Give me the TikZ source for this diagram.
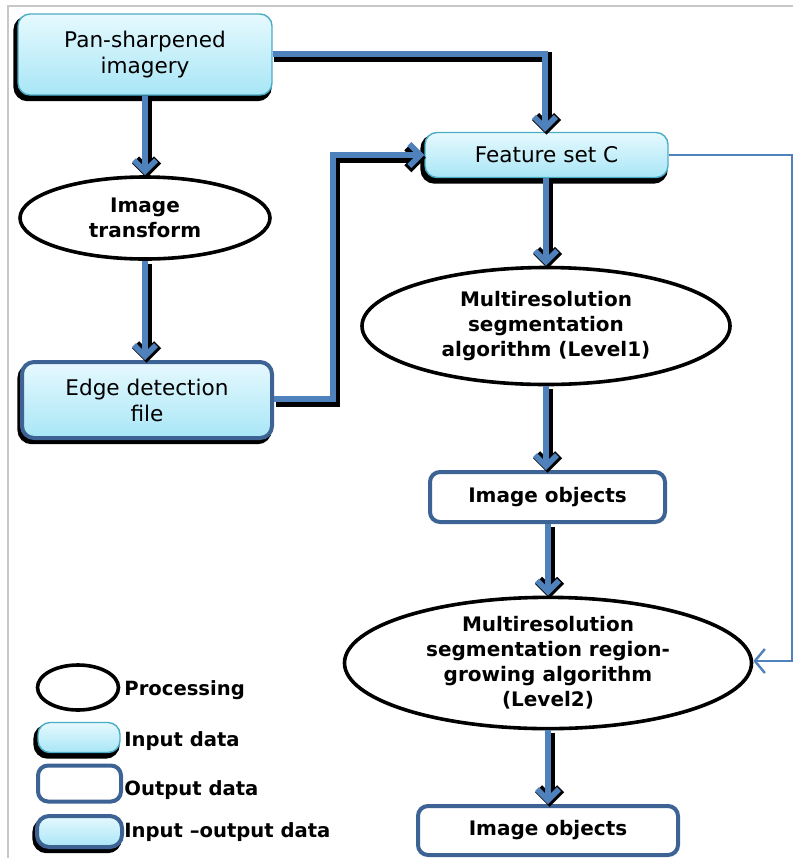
\documentclass[tikz,border=0pt]{standalone}
\usepackage{fontspec}
\setmainfont{DejaVu Sans}
\usetikzlibrary{arrows.meta,shapes.geometric}
\definecolor{flowblue}{HTML}{4F81BD}
\definecolor{boxblue}{HTML}{3D6394}
\definecolor{tealedge}{HTML}{4BACC6}
\definecolor{cyantop}{HTML}{E6F9FE}
\definecolor{cyanbot}{HTML}{A8E6F6}
\definecolor{framegray}{HTML}{C8C8C8}
\tikzset{
  x=0.5pt, y=-0.5pt,
  dropshadow/.style={preaction={draw=black, fill=black, line width=2.2pt,
      transform canvas={shift={(-1.2pt,-2pt)}}}},
  cyanfill/.style={top color=cyantop, bottom color=cyanbot},
  inbox/.style={rectangle, rounded corners=6pt, draw=tealedge, line width=0.7pt,
      cyanfill, dropshadow, align=center, inner sep=0pt, font=\fontsize{10.8}{13}\selectfont},
  iobox/.style={rectangle, rounded corners=6pt, draw=boxblue, line width=2pt,
      cyanfill, dropshadow, align=center, inner sep=0pt, font=\fontsize{10.8}{13}\selectfont},
  outbox/.style={rectangle, rounded corners=5pt, draw=boxblue, line width=2pt,
      fill=white, align=center, inner sep=0pt, font=\bfseries\fontsize{10}{12.5}\selectfont},
  procell/.style={ellipse, draw=black, line width=1.8pt, fill=white, align=center,
      inner sep=0pt, font=\bfseries\fontsize{10}{12.5}\selectfont},
  legtext/.style={anchor=west, inner sep=0pt, font=\bfseries\fontsize{9.8}{12}\selectfont},
  flow/.style={draw=flowblue, line width=2.8pt,
      -{Straight Barb[length=5.5pt, width=11pt]},
      preaction={draw=black, line width=5pt,
        transform canvas={shift={(0.8pt,-1.4pt)}}}},
  thinflow/.style={draw=flowblue, line width=1.2pt,
      -{Straight Barb[length=5pt, width=12pt]}},
}
\begin{document}
\begin{tikzpicture}
\useasboundingbox (0,0) rectangle (793,858);
% frame
\draw[framegray, line width=1.2pt] (8,858) -- (8,6) -- (793,6);

% main nodes
\node[inbox, minimum width=127pt, minimum height=40.5pt] (pan) at (145,54.5)
  {Pan-sharpened\\imagery};
\node[procell, minimum width=125pt, minimum height=41pt] (trans) at (145,218)
  {Image\\transform};
\node[iobox, minimum width=125pt, minimum height=38pt] (edge) at (147,400)
  {Edge detection\\file};
\node[inbox, minimum width=121.5pt, minimum height=22.5pt] (feat) at (546.5,155)
  {Feature set C};
\node[procell, minimum width=184pt, minimum height=58.5pt] (seg1) at (546,326)
  {Multiresolution\\segmentation\\algorithm (Level1)};
\node[outbox, minimum width=117.5pt, minimum height=25pt] (obj1) at (547.5,497)
  {Image objects};
\node[procell, minimum width=203.5pt, minimum height=65pt] (seg2) at (548,663)
  {Multiresolution\\segmentation region-\\growing algorithm\\(Level2)};
\node[outbox, minimum width=130pt, minimum height=24.5pt] (obj2) at (548,830.5)
  {Image objects};

% legend
\node[procell, minimum width=40.5pt, minimum height=22.5pt] (lgproc) at (78,687.5) {};
\node[legtext] (lgproct) at (124,690) {Processing};
\node[inbox, minimum width=41pt, minimum height=15pt] (lgin) at (79,737.5) {};
\node[legtext] (lgint) at (124,741) {Input data};
\node[outbox, minimum width=41.5pt, minimum height=18pt] (lgout) at (79.5,783.5) {};
\node[legtext] (lgoutt) at (124,790) {Output data};
\node[iobox, minimum width=42.5pt, minimum height=15.5pt] (lgio) at (79.5,831.5) {};
\node[legtext] (lgiot) at (124,832) {Input \textendash output data};

% connectors
\coordinate (c1) at (545,54);
\coordinate (c2) at (333,399);
\coordinate (c3) at (333,155);
\coordinate (c4) at (792,155);
\coordinate (c5) at (792,661);

\draw[flow] (pan.south) -- (trans.north);
\draw[flow] (trans.south) -- (edge.north -| trans.south);
\draw[flow] (pan.east |- c1) -- (c1) -- (feat.north -| c1);
\draw[flow] (edge.east |- c2) -- (c2) -- (c3) -- (feat.west);
\draw[flow] (feat.south -| seg1.north) -- (seg1.north);
\draw[flow] (seg1.south) -- (seg1.south |- obj1.north);
\draw[flow] (obj1.south -| seg2.north) -- (seg2.north);
\draw[flow] (seg2.south) -- (obj2.north);
\draw[thinflow] (feat.east) -- (c4) -- (c5) -- (seg2.east |- c5);
\end{tikzpicture}
\end{document}
